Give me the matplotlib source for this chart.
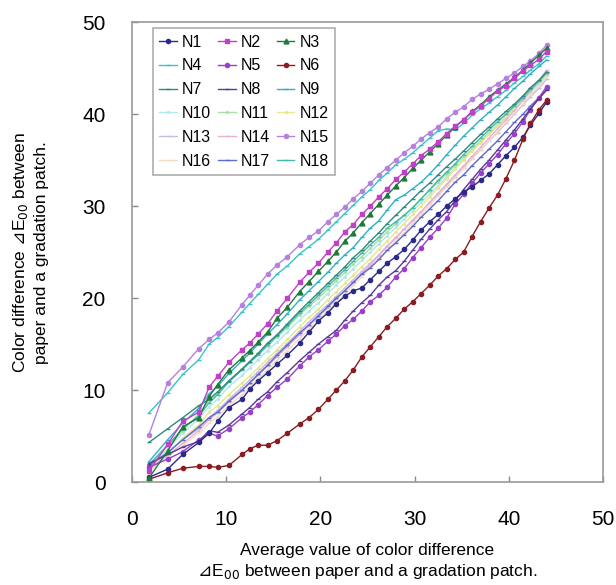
import matplotlib.pyplot as plt
import matplotlib.lines as mlines

plt.rcParams['font.family'] = ['Liberation Sans', 'DejaVu Sans']
# math parts (the triangle sign and the subscript) come from DejaVu Sans
plt.rcParams['mathtext.fontset'] = 'custom'
plt.rcParams['mathtext.rm'] = 'DejaVu Sans'

# average dE00 of each gradation patch (shared x)
x_avg = [1.8, 3.8, 5.4, 7.1, 8.2, 9.1, 10.3, 11.7, 12.5, 13.4, 14.4, 15.4, 16.5, 17.8, 18.8,
         19.8, 20.8, 21.7, 22.6, 23.5, 24.4, 25.3, 26.2, 27.1, 28.0, 28.9, 29.8, 30.7, 31.6,
         32.5, 33.4, 34.3, 35.2, 36.1, 37.0, 37.9, 38.8, 39.7, 40.6, 41.5, 42.3, 43.2, 44.0]

n1 = [0.5, 1.4, 3.0, 4.3, 5.3, 6.6, 8.1, 9.0, 10.1, 11.0, 11.9, 12.8, 13.8, 15.1, 16.3, 17.5,
      18.4, 19.4, 20.2, 20.8, 21.1, 22.0, 22.9, 23.8, 24.5, 25.3, 26.3, 27.4, 28.3, 29.1, 30.0,
      30.8, 31.5, 32.1, 32.8, 33.5, 34.5, 35.5, 36.4, 37.5, 38.8, 40.1, 41.3]
n2 = [1.2, 4.1, 6.6, 7.6, 10.3, 11.5, 13.0, 14.4, 15.1, 16.1, 17.2, 18.6, 20.0, 21.7, 22.8,
      23.8, 25.0, 26.0, 27.2, 28.0, 29.1, 30.0, 31.0, 31.9, 32.9, 33.7, 34.6, 35.5, 36.2, 37.0,
      37.9, 38.7, 39.4, 40.2, 40.9, 41.7, 42.5, 43.1, 43.9, 44.7, 45.3, 46.0, 46.8]
n3 = [0.4, 3.4, 6.0, 7.0, 9.3, 10.6, 12.2, 13.5, 14.3, 15.2, 16.3, 17.8, 19.0, 20.7, 21.8,
      22.9, 24.0, 25.0, 26.2, 27.1, 28.2, 29.2, 30.2, 31.2, 32.2, 33.1, 34.1, 35.0, 35.9, 36.8,
      37.7, 38.6, 39.4, 40.3, 41.0, 41.9, 42.6, 43.3, 44.0, 44.8, 45.6, 46.4, 47.2]
n4 = [7.5, 9.7, 11.7, 13.3, 15.0, 15.7, 16.9, 18.5, 19.4, 20.4, 21.5, 22.6, 23.5, 24.8, 25.6,
      26.4, 27.4, 28.3, 29.2, 30.1, 31.0, 31.8, 32.8, 33.6, 34.5, 35.1, 35.8, 36.6, 37.4, 38.2,
      38.4, 38.3, 39.0, 39.9, 40.6, 41.2, 41.9, 42.6, 43.4, 44.1, 44.8, 45.5, 46.3]
n5 = [1.6, 2.5, 3.3, 4.6, 5.3, 5.0, 5.8, 7.0, 7.6, 8.4, 9.4, 10.3, 11.2, 12.6, 13.6, 14.4,
      15.3, 16.1, 17.0, 17.7, 18.6, 19.6, 20.3, 21.2, 22.3, 23.2, 24.4, 25.5, 26.6, 27.6, 28.7,
      30.2, 31.3, 32.5, 33.6, 34.6, 35.6, 36.8, 37.9, 39.2, 40.5, 41.8, 43.0]
n6 = [0.3, 1.0, 1.5, 1.7, 1.7, 1.6, 1.8, 3.0, 3.6, 4.0, 4.0, 4.5, 5.3, 6.3, 7.0, 7.9, 9.0,
      10.0, 11.0, 12.2, 13.6, 14.7, 15.8, 16.9, 17.8, 18.8, 19.6, 20.5, 21.4, 22.4, 23.2, 24.2,
      25.0, 26.7, 28.3, 29.8, 31.2, 33.0, 35.0, 37.3, 39.0, 40.5, 41.5]
n7 = [4.3, 5.8, 7.0, 8.3, 9.0, 9.8, 11.0, 12.3, 13.1, 14.0, 15.1, 16.0, 17.2, 18.6, 19.6,
      20.6, 21.6, 22.5, 23.4, 24.4, 25.2, 26.2, 27.1, 28.1, 29.0, 29.9, 30.8, 31.7, 32.5, 33.4,
      34.3, 35.1, 36.0, 36.9, 37.8, 38.6, 39.5, 40.3, 41.1, 42.0, 42.9, 43.7, 44.6]
n8 = [2.0, 3.0, 3.8, 4.4, 5.6, 5.4, 6.2, 7.4, 8.1, 9.0, 9.8, 10.9, 11.9, 13.2, 14.1, 15.0,
      15.8, 16.5, 17.6, 18.6, 19.5, 20.3, 21.4, 22.3, 23.0, 24.0, 25.2, 26.4, 27.5, 28.5, 29.4,
      30.6, 31.8, 32.9, 34.0, 35.0, 36.1, 37.2, 38.3, 39.5, 40.6, 41.7, 42.6]
n9 = [2.2, 4.6, 6.4, 8.0, 9.6, 10.4, 11.8, 13.2, 14.0, 15.0, 16.1, 17.1, 18.3, 19.8, 20.8,
      21.8, 22.8, 23.8, 24.7, 25.5, 26.6, 27.6, 28.4, 29.6, 30.7, 31.2, 31.9, 32.6, 33.5, 34.5,
      35.6, 36.6, 37.6, 38.5, 39.4, 40.2, 41.0, 41.9, 42.8, 43.6, 44.4, 45.2, 45.9]
n10 = [1.5, 3.6, 5.3, 6.9, 8.2, 9.0, 10.4, 11.6, 12.4, 13.3, 14.3, 15.2, 16.3, 17.6, 18.6,
       19.5, 20.5, 21.4, 22.3, 23.2, 24.1, 25.0, 25.9, 26.8, 27.7, 28.6, 29.5, 30.4, 31.3, 32.2,
       33.2, 34.1, 35.0, 36.0, 36.9, 37.8, 38.7, 39.6, 40.6, 41.5, 42.4, 43.3, 44.2]
n11 = [1.7, 3.9, 5.6, 7.4, 8.9, 9.6, 11.0, 12.3, 13.0, 13.9, 14.8, 15.8, 16.8, 18.2, 19.1,
       20.0, 21.0, 21.9, 22.8, 23.7, 24.5, 25.4, 26.3, 27.2, 28.1, 29.0, 29.9, 30.8, 31.7, 32.6,
       33.5, 34.4, 35.3, 36.2, 37.1, 38.0, 38.9, 39.8, 40.7, 41.6, 42.5, 43.5, 44.4]
n12 = [1.3, 3.0, 4.8, 6.2, 7.6, 8.3, 9.5, 10.8, 11.5, 12.4, 13.4, 14.4, 15.5, 16.9, 17.9,
       18.8, 19.8, 20.7, 21.6, 22.5, 23.4, 24.3, 25.3, 26.2, 27.2, 28.1, 29.1, 30.0, 31.0, 32.0,
       33.0, 34.0, 35.0, 36.0, 36.9, 37.9, 38.8, 39.8, 40.7, 41.7, 42.6, 43.6, 44.7]
n13 = [1.6, 3.2, 4.6, 5.8, 7.0, 7.8, 9.0, 10.3, 11.1, 12.0, 13.0, 14.0, 15.1, 16.4, 17.4,
       18.4, 19.3, 20.2, 21.1, 22.0, 22.9, 23.8, 24.7, 25.7, 26.6, 27.5, 28.5, 29.4, 30.4, 31.3,
       32.3, 33.2, 34.2, 35.2, 36.1, 37.1, 38.0, 39.0, 40.0, 41.0, 41.9, 42.8, 43.8]
n14 = [1.4, 2.9, 4.2, 5.6, 6.8, 7.5, 8.7, 9.9, 10.7, 11.6, 12.6, 13.6, 14.7, 16.0, 17.0,
       18.0, 18.9, 19.9, 20.8, 21.7, 22.7, 23.6, 24.6, 25.6, 26.5, 27.5, 28.4, 29.4, 30.4, 31.4,
       32.4, 33.4, 34.4, 35.4, 36.4, 37.4, 38.4, 39.4, 40.4, 41.5, 42.5, 43.6, 44.8]
n15 = [5.1, 10.8, 12.5, 14.5, 15.5, 16.2, 17.4, 19.3, 20.3, 21.4, 22.6, 23.6, 24.5, 25.8,
       26.6, 27.3, 28.3, 29.1, 29.9, 30.8, 31.6, 32.5, 33.4, 34.2, 35.0, 35.8, 36.5, 37.3, 38.0,
       38.6, 39.5, 40.2, 40.8, 41.6, 42.2, 42.7, 43.3, 43.9, 44.5, 45.2, 45.8, 46.6, 47.5]
n16 = [1.2, 2.7, 4.0, 5.3, 6.4, 7.1, 8.3, 9.5, 10.3, 11.2, 12.2, 13.2, 14.3, 15.6, 16.6,
       17.6, 18.6, 19.5, 20.4, 21.4, 22.3, 23.3, 24.2, 25.2, 26.2, 27.1, 28.1, 29.1, 30.1, 31.1,
       32.1, 33.1, 34.1, 35.1, 36.1, 37.1, 38.1, 39.1, 40.1, 41.1, 42.1, 43.1, 44.1]
n17 = [1.8, 3.2, 4.6, 6.0, 7.0, 7.6, 8.8, 10.0, 10.8, 11.7, 12.7, 13.8, 14.9, 16.2, 17.1,
       18.1, 19.1, 20.0, 20.8, 21.7, 22.6, 23.3, 24.2, 25.2, 26.0, 26.9, 27.8, 28.8, 29.7, 30.6,
       31.6, 32.6, 33.4, 34.4, 35.3, 36.2, 37.1, 38.1, 39.1, 40.0, 40.9, 41.8, 42.7]
n18 = [1.9, 4.0, 5.8, 7.2, 8.6, 9.5, 10.9, 12.2, 13.0, 13.8, 14.9, 15.9, 17.0, 18.4, 19.3,
       20.3, 21.3, 22.2, 23.1, 24.0, 24.9, 25.8, 26.6, 27.6, 28.3, 29.0, 29.8, 30.8, 31.8, 32.8,
       33.7, 34.6, 35.6, 36.5, 37.4, 38.3, 39.2, 40.0, 40.9, 41.8, 42.7, 43.6, 44.5]

names = ['N%d' % i for i in range(1, 19)]
series = [n1, n2, n3, n4, n5, n6, n7, n8, n9, n10, n11, n12, n13, n14, n15, n16, n17, n18]
colors = ['#2a2a8a', '#c040c8', '#1f7a3a', '#38c4c8', '#9a40c8', '#8a1c22',
          '#2e8a80', '#5a3a98', '#30b0c8', '#b0e8ec', '#a8e0a8', '#e8e888',
          '#c8bce0', '#eab0d8', '#b680e0', '#f0dcc4', '#5c6ad0', '#48b8a8']
markers = ['o', 's', '^', '_', 'o', 'o', '_', '_', '_', '.', '.', '.',
           '_', '_', 'o', '_', '_', '_']
msizes = [3, 3.5, 3.5, 3, 3, 3, 3, 3, 3, 2.5, 2.5, 2.5, 3, 3, 3, 3, 3, 3]

fig = plt.figure(figsize=(6.16, 5.85), dpi=100)
ax = fig.add_axes([0.214, 0.176, 0.765, 0.786])

# light lines first so the darker ones stay on top
order = [9, 10, 11, 12, 13, 15, 16, 17, 8, 6, 3, 14, 4, 7, 0, 5, 2, 1]
for k, i in enumerate(order):
    ax.plot(x_avg, series[i], color=colors[i], lw=1.0, marker=markers[i],
            ms=msizes[i], mec=colors[i], mfc=colors[i], zorder=2 + k * 0.01)

# legend reads across rows: N1 N2 N3 / N4 N5 N6 ...
handles = [mlines.Line2D([], [], color=colors[i], lw=1.0, marker=markers[i],
                         ms=msizes[i], mec=colors[i], mfc=colors[i]) for i in range(18)]
leg_idx = [r * 3 + c for c in range(3) for r in range(6)]

ax.set_xlim(0, 50)
ax.set_ylim(0, 50)
ax.set_xticks([0, 10, 20, 30, 40, 50])
ax.set_yticks([0, 10, 20, 30, 40, 50])
ax.tick_params(axis='both', direction='in', length=4, width=1, color='#888888',
               labelsize=15)
ax.tick_params(axis='x', pad=20)
ax.tick_params(axis='y', pad=19)
for sp in ax.spines.values():
    sp.set_color('#999999')
    sp.set_linewidth(1.2)

de00 = '$\\mathrm{\u22bf}$E$_{\\mathrm{00}}$'
ax.set_xlabel('Average value of color difference\n'
              + de00 + ' between paper and a gradation patch.',
              fontsize=12.5, labelpad=10, linespacing=1.3)
ax.set_ylabel('Color difference ' + de00 + ' between\n'
              'paper and a gradation patch.',
              fontsize=12.5, labelpad=24, linespacing=1.3)

leg = ax.legend([handles[i] for i in leg_idx], [names[i] for i in leg_idx],
                loc='upper left', bbox_to_anchor=(0.045, 0.987),
                ncol=3, fontsize=11.5, frameon=True, fancybox=False, borderaxespad=0,
                handlelength=1.1, handletextpad=0.3, columnspacing=0.45,
                labelspacing=0.55, borderpad=0.4)
leg.get_frame().set_edgecolor('#999999')
leg.get_frame().set_linewidth(1.2)

fig.savefig('out.png', dpi=100)
